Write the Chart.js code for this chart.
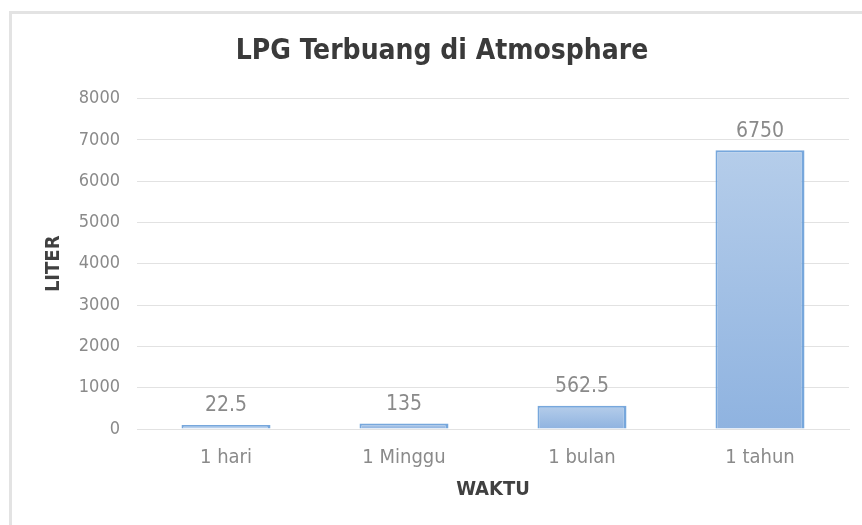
<!DOCTYPE html>
<html>
<head>
<meta charset="utf-8">
<script src="https://cdn.jsdelivr.net/npm/chart.js@4/dist/chart.umd.min.js"></script>
<style>
  html, body { margin: 0; padding: 0; background: #fff; overflow: hidden; }
  #frame { position: absolute; left: 9px; top: 11px; width: 900px; height: 600px;
           border: 3px solid #e3e3e3; box-sizing: border-box; }
  #c { position: absolute; left: 0; top: 0; }
</style>
</head>
<body>
<div id="frame"></div>
<canvas id="c" width="862" height="525"></canvas>
<script>
// Waktu (time spans) and litres of LPG lost to the atmosphere
const categories = ['1 hari', '1 Minggu', '1 bulan', '1 tahun'];
const liter = [22.5, 135, 562.5, 6750];
const yTicks = [0, 1000, 2000, 3000, 4000, 5000, 6000, 7000, 8000];

const FONT = "'Liberation Sans Narrow', 'DejaVu Sans Condensed', 'Arial Narrow', sans-serif";
const GREY = '#8a8a8a';

// per-bar vertical gradient, lighter at the top of each bar
function barFill(ctx) {
  const chart = ctx.chart;
  const area = chart.chartArea;
  if (!area || ctx.type !== 'data') return '#a3c0e6';
  const yScale = chart.scales.y;
  const top = yScale.getPixelForValue(ctx.raw);
  const base = yScale.getPixelForValue(0);
  if (!isFinite(top) || Math.abs(base - top) < 3) return '#b7cfec';
  const g = chart.ctx.createLinearGradient(0, top, 0, base);
  g.addColorStop(0, '#b5cdea');
  g.addColorStop(1, '#8fb3e0');
  return g;
}

// value labels above each bar
const valueLabels = {
  id: 'valueLabels',
  afterDatasetsDraw(chart) {
    const ctx = chart.ctx;
    const meta = chart.getDatasetMeta(0);
    ctx.save();
    ctx.font = '21px ' + FONT;
    ctx.fillStyle = GREY;
    ctx.textAlign = 'center';
    ctx.textBaseline = 'middle';
    meta.data.forEach((bar, i) => {
      ctx.fillText(String(liter[i]), bar.x, bar.y - 19);
    });
    ctx.restore();
  }
};

new Chart(document.getElementById('c'), {
  type: 'bar',
  data: {
    labels: categories,
    datasets: [{
      data: liter,
      backgroundColor: barFill,
      borderColor: 'rgba(104,157,216,0.9)',
      borderWidth: { top: 2, right: 3, bottom: 0, left: 2 },
      borderSkipped: 'bottom',
      barPercentage: 0.5,
      categoryPercentage: 1.0,
      minBarLength: 4
    }]
  },
  options: {
    responsive: false,
    animation: false,
    devicePixelRatio: 1,
    layout: { padding: { left: 35, right: 13, top: 0, bottom: 0 } },
    plugins: {
      legend: { display: false },
      tooltip: { enabled: false },
      title: {
        display: true,
        text: 'LPG Terbuang di Atmosphare',
        color: '#3a3a3a',
        font: { family: FONT, size: 28, weight: 'bold', lineHeight: 1.2 },
        padding: { top: 35, bottom: 30 }
      }
    },
    scales: {
      x: {
        grid: { display: false, drawTicks: false },
        border: { display: true, color: '#e2e2e2', width: 1 },
        ticks: { color: GREY, font: { family: FONT, size: 20 }, padding: 17 },
        title: {
          display: true, text: 'WAKTU', color: '#404040',
          font: { family: FONT, size: 20, weight: 'bold', lineHeight: 1.2 },
          padding: { top: 0, bottom: 23 }
        },
        afterFit(s) { s.height = 96; }
      },
      y: {
        min: 0, max: 8000,
        afterBuildTicks(s) { s.ticks = yTicks.map(v => ({ value: v })); },
        grid: { color: '#e2e2e2', lineWidth: 1, drawTicks: false },
        border: { display: false },
        ticks: {
          color: GREY, font: { family: FONT, size: 18 }, padding: 17,
          callback: (v) => String(v)
        },
        title: {
          display: true, text: 'LITER', color: '#404040',
          font: { family: FONT, size: 20, weight: 'bold', lineHeight: 1.2 },
          padding: { top: 7, bottom: 0 }
        },
        afterFit(s) { s.width = 102; }
      }
    }
  },
  plugins: [valueLabels]
});
</script>
</body>
</html>
